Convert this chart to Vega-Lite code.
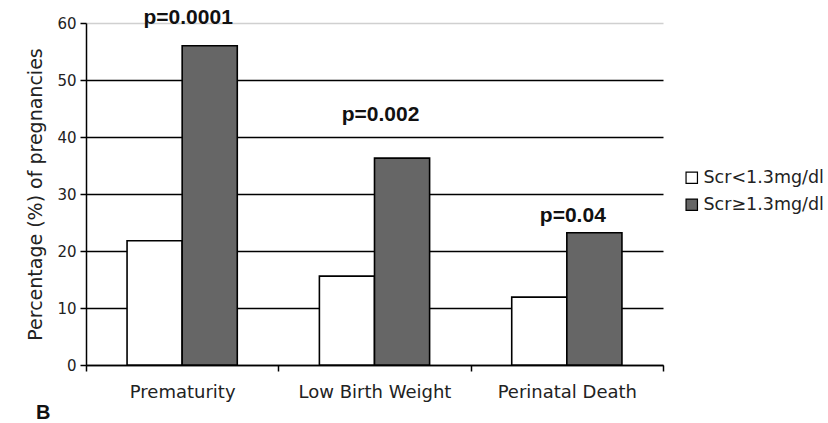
{
  "$schema": "https://vega.github.io/schema/vega-lite/v6.json",
  "autosize": {"type": "none"},
  "padding": {"left": 86, "top": 23, "right": 165, "bottom": 58},
  "width": 577,
  "height": 342,
  "background": "white",
  "config": {
    "font": "DejaVu Sans",
    "view": {"stroke": null},
    "axis": {"labelFont": "DejaVu Sans", "titleFont": "DejaVu Sans"},
    "legend": {"labelFont": "DejaVu Sans"}
  },
  "title": {
    "text": "B",
    "orient": "bottom",
    "anchor": "start",
    "frame": "group",
    "dx": -50,
    "offset": 18,
    "baseline": "alphabetic",
    "fontSize": 20,
    "fontWeight": "bold",
    "font": "Liberation Sans",
    "color": "#111"
  },
  "datasets": {
    "bars": [
      {"outcome": "Prematurity", "group": "Scr<1.3mg/dl", "pct": 21.8},
      {"outcome": "Prematurity", "group": "Scr≥1.3mg/dl", "pct": 56.0},
      {"outcome": "Low Birth Weight", "group": "Scr<1.3mg/dl", "pct": 15.6},
      {"outcome": "Low Birth Weight", "group": "Scr≥1.3mg/dl", "pct": 36.3},
      {"outcome": "Perinatal Death", "group": "Scr<1.3mg/dl", "pct": 11.9},
      {"outcome": "Perinatal Death", "group": "Scr≥1.3mg/dl", "pct": 23.2}
    ],
    "pvals": [
      {"outcome": "Prematurity", "label": "p=0.0001", "pos": 60.9},
      {"outcome": "Low Birth Weight", "label": "p=0.002", "pos": 43.9},
      {"outcome": "Perinatal Death", "label": "p=0.04", "pos": 26.1}
    ]
  },
  "layer": [
    {
      "data": {"name": "bars"},
      "mark": {"type": "bar", "stroke": "#000", "strokeWidth": 1.6},
      "encoding": {
        "x": {
          "field": "outcome",
          "type": "nominal",
          "sort": ["Prematurity", "Low Birth Weight", "Perinatal Death"],
          "scale": {"paddingInner": 0, "paddingOuter": 0},
          "axis": {
            "title": null,
            "labelAngle": 0,
            "labelFontSize": 18,
            "labelColor": "#222",
            "labelPadding": 12,
            "tickBand": "extent",
            "tickSize": 6,
            "tickColor": "#000",
            "tickWidth": 1.5,
            "domainColor": "#000",
            "domainWidth": 1.5
          }
        },
        "xOffset": {
          "field": "group",
          "type": "nominal",
          "scale": {"paddingInner": 0, "paddingOuter": 0.745}
        },
        "y": {
          "field": "pct",
          "type": "quantitative",
          "scale": {"domain": [0, 60], "nice": false},
          "axis": {
            "title": "Percentage (%) of pregnancies",
            "titleFontSize": 19,
            "titleFontWeight": "normal",
            "titleColor": "#222",
            "titlePadding": 11,
            "values": [0, 10, 20, 30, 40, 50, 60],
            "labelFontSize": 15,
            "labelColor": "#222",
            "labelPadding": 4,
            "tickSize": 6,
            "tickColor": "#000",
            "tickWidth": 1.5,
            "domainColor": "#000",
            "domainWidth": 1.5,
            "grid": true,
            "gridColor": {"condition": {"test": "datum.value == 60", "value": "#d0d0d0"}, "value": "#000"},
            "gridWidth": 1.3
          }
        },
        "fill": {
          "field": "group",
          "type": "nominal",
          "scale": {"domain": ["Scr<1.3mg/dl", "Scr≥1.3mg/dl"], "range": ["#ffffff", "#666666"]},
          "legend": {
            "title": null,
            "orient": "none",
            "legendX": 597,
            "legendY": 146,
            "symbolType": "square",
            "symbolSize": 130,
            "symbolStrokeColor": "#000",
            "symbolStrokeWidth": 1.2,
            "labelFontSize": 17.5,
            "labelColor": "#222",
            "labelOffset": 3,
            "rowPadding": 8
          }
        }
      }
    },
    {
      "data": {"name": "pvals"},
      "mark": {"type": "text", "fontWeight": "bold", "fontSize": 21, "color": "#111", "dx": 6, "baseline": "middle", "font": "Liberation Sans"},
      "encoding": {
        "x": {"field": "outcome", "type": "nominal", "sort": ["Prematurity", "Low Birth Weight", "Perinatal Death"]},
        "y": {"field": "pos", "type": "quantitative"},
        "text": {"field": "label"}
      }
    }
  ]
}
